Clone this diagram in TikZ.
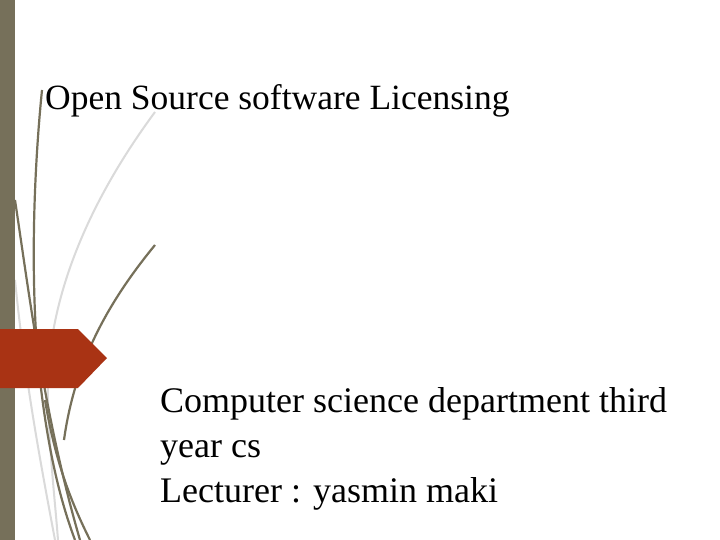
\documentclass[tikz,border=0pt]{standalone}
\usepackage{fontspec}
\setmainfont{Liberation Serif}
\definecolor{barc}{HTML}{76705A}
\definecolor{arrc}{HTML}{A93314}
\definecolor{lightc}{HTML}{DADADA}
\begin{document}
\begin{tikzpicture}[x=1pt,y=-1pt,
  dk/.style={barc,line width=2.2pt},
  lt/.style={lightc,line width=2pt},
  txt/.style={anchor=north west,align=left,inner sep=0pt}]
\useasboundingbox (0,0) rectangle (720,540);
\fill[white] (0,0) rectangle (720,540);
% curves
\draw[lt] (155,112) .. controls (90,200) and (45,300) .. (48,400) .. controls (50,460) and (55,500) .. (58,540);
\draw[lt] (15,280) .. controls (25,380) and (40,460) .. (55,540);
\draw[dk] (42,90) .. controls (33,180) and (30,290) .. (40,380) .. controls (48,450) and (60,500) .. (75,540);
\draw[dk] (15,200) .. controls (30,300) and (45,420) .. (80,540);
\draw[dk] (155,245) .. controls (110,300) and (75,360) .. (64,440);
\draw[dk] (45,400) .. controls (55,460) and (70,500) .. (90,540);
% bar
\fill[barc] (0,0) rectangle (15,540);
% arrow
\fill[arrc] (0,329) -- (78,329) -- (107,358) -- (78,388) -- (0,388) -- cycle;
% text
\node[txt,font=\fontsize{35.5}{40}\selectfont] (title) at (45,84) {Open Source software Licensing};
\node[txt,font=\fontsize{36}{45}\selectfont] (sub) at (160,387) {Computer science department third\\year cs\\Lecturer : yasmin maki};
\end{tikzpicture}
\end{document}
